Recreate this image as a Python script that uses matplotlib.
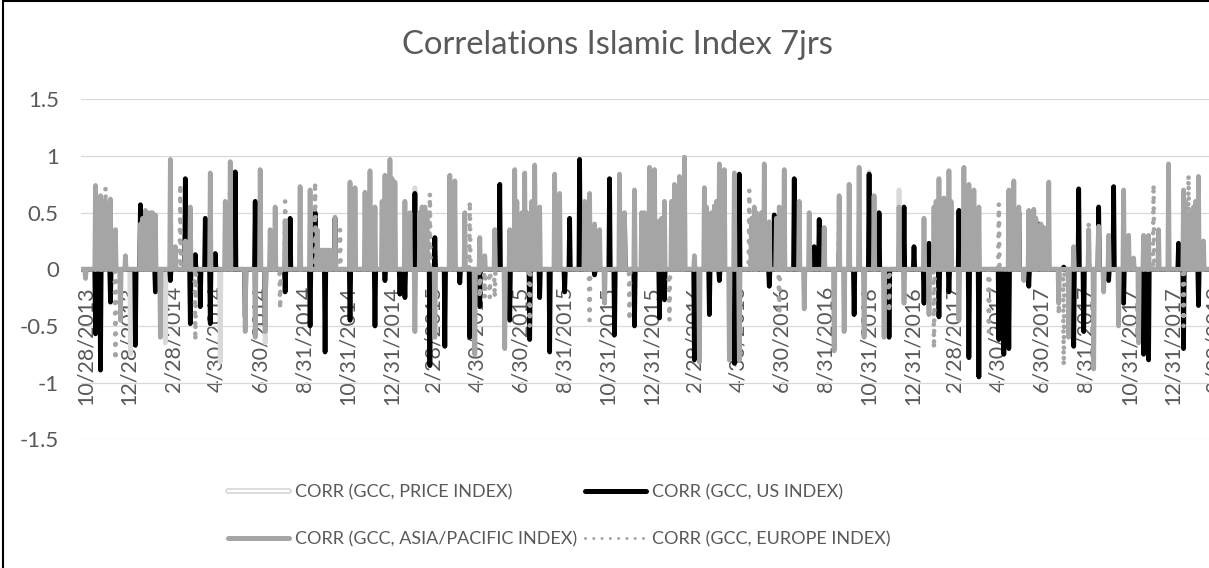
import matplotlib
matplotlib.use("Agg")
import matplotlib.pyplot as plt
from matplotlib.lines import Line2D
from matplotlib.legend_handler import HandlerTuple
from matplotlib.patches import Rectangle
import pandas as pd

# ---------------- data ----------------
TITLE = "Correlations Islamic Index 7jrs"
START = "2013-10-21"          # first week of the series
N_WEEKS = 227
SERIES_NAMES = ["CORR (GCC, PRICE INDEX)", "CORR (GCC, US INDEX)",
                "CORR (GCC, ASIA/PACIFIC INDEX)", "CORR (GCC, EUROPE INDEX)"]

# week index (x.5 = mid-week) -> correlation value (all other days are 0)
price_vals = {1: -0.08, 10: -0.75, 17: -0.65, 28: -0.82, 37: -0.65, 55: 0.6, 67: 0.72,
              91: 0.9, 121: 0.95, 158: 0.86, 164: 0.7}
us_vals = {3: -0.57, 4: -0.89, 6: -0.29, 11: -0.67, 12: 0.57, 15: -0.2, 18: -0.1, 21: 0.8,
           22: -0.48, 23: 0.13, 24: -0.33, 25: 0.45, 26: -0.48, 27: 0.14, 31: 0.86, 33: -0.42,
           35: 0.6, 37: -0.5, 41: -0.2, 42: 0.45, 46: -0.5, 47: 0.5, 49: -0.73, 51: 0.45,
           54: -0.45, 59: -0.5, 61: -0.1, 64: -0.22, 65: -0.25, 67: 0.67, 70: -0.85, 71: 0.28,
           73: -0.68, 76: -0.12, 78: -0.6, 80: -0.33, 84: 0.75, 86: -0.45, 90: -0.62, 92: -0.25,
           94: -0.73, 97: -0.2, 98: 0.45, 100: 0.97, 103: -0.05, 106: 0.8, 107: -0.58, 109: 0.46,
           111: -0.5, 116: -0.43, 117: -0.27, 123: -0.8, 126: -0.4, 127: 0.5, 128: -0.1,
           131: -0.83, 132: 0.84, 136: 0.3, 138: -0.15, 139: 0.48, 143: 0.8, 147: 0.2, 148: 0.44,
           152: 0.15, 155: -0.4, 158: 0.84, 160: 0.5, 162: -0.6, 165: 0.55, 167: 0.2, 169: -0.3,
           170: 0.23, 172: -0.42, 174: -0.2, 176: 0.52, 178: -0.78, 180: -0.95, 184: -0.62,
           185: -0.75, 186: -0.7, 188: 0.5, 190: -0.15, 192: 0.4, 197: 0.02, 199: -0.68,
           200: 0.71, 201: -0.55, 204: 0.55, 206: -0.1, 207: 0.73, 209: -0.3, 213: -0.75,
           214: -0.8, 220: 0.23, 221: -0.7, 224: -0.32}
asia_vals = {1: -0.08, 3: 0.74, 4: 0.65, 5: 0.6, 6: 0.62, 7: 0.35, 8: -0.45, 9: 0.12, 12: 0.4,
             12.5: 0.45, 13: 0.52, 13.5: 0.5, 14: 0.5, 14.5: 0.5, 15: 0.48, 16: -0.6, 18: 0.97,
             19: 0.2, 21: 0.25, 22: 0.55, 26: 0.85, 29: 0.6, 30: 0.95, 33: -0.55, 35: -0.6,
             36: 0.88, 37: -0.55, 38: 0.35, 39: 0.55, 41: 0.43, 44: 0.73, 46: 0.7, 47.5: 0.35,
             48: 0.17, 48.5: 0.17, 49: 0.17, 49.5: 0.17, 50: 0.17, 51: 0.46,
             54: 0.77, 55: 0.72, 57: 0.68, 58: 0.87, 59: 0.55, 60.5: 0.6, 61: 0.83, 61.5: 0.75,
             62: 0.97, 62.5: 0.8, 63: 0.77, 65: 0.6, 66: 0.5, 67: -0.55, 68: 0.5, 68.5: 0.55,
             69: 0.55, 69.5: 0.5, 71: -0.6, 74: 0.83, 75: 0.78, 77: 0.5, 79: -0.75, 80: 0.28,
             81: 0.12, 83: 0.35, 85: -0.7, 86: 0.35, 87: 0.88, 87.5: 0.6, 88.5: 0.5, 89: 0.85,
             89.5: 0.5, 90.5: 0.6, 91: 0.92, 92: 0.55, 95: 0.84, 96: 0.67, 101: 0.6, 102: 0.67,
             103: 0.4, 104: 0.35, 105: -0.3, 108: 0.84, 109: 0.5, 111: 0.7, 112.5: 0.5,
             113: 0.5, 114: 0.9, 115: 0.88, 116: 0.43, 116.5: 0.45, 117: 0.6, 118.5: 0.6,
             119: 0.75, 119.5: 0.6, 120: 0.82, 120.5: 0.5, 121: 0.99, 123: 0.12, 124: -0.82,
             125: 0.72, 125.5: 0.55, 126.5: 0.5, 127: 0.56, 127.5: 0.6, 128: 0.93, 129: 0.88,
             130: -0.8, 131: 0.85, 132: -0.8, 134.5: 0.45, 135: 0.55, 135.5: 0.5, 136.5: 0.5,
             137: 0.93, 138: 0.42, 139.5: 0.45, 140: 0.55, 140.5: 0.5, 141: 0.88, 144: 0.6,
             145: -0.35, 146: 0.5, 149: 0.37, 151: -0.72, 152: 0.65, 153: -0.55, 154: 0.75,
             156: 0.9, 157: -0.6, 159: 0.65, 161: -0.6, 164: 0.55, 165: -0.3, 169: 0.45,
             170: -0.4, 171: 0.55, 171.5: 0.6, 172: 0.8, 172.5: 0.55, 173: 0.63, 174: 0.87,
             174.5: 0.6, 176: -0.45, 177: 0.9, 177.5: 0.55, 178: 0.75, 178.5: 0.6, 179: 0.7,
             180: 0.55, 186: 0.7, 186.5: 0.6, 187: 0.78, 187.5: 0.5, 188: 0.55, 189: -0.1,
             190: 0.52, 190.5: 0.45, 191: 0.53, 191.5: 0.45, 192.5: 0.4, 193: 0.37, 194: 0.77,
             196: -0.3, 198: -0.6, 199: 0.2, 202: 0.35, 203: -0.88, 204: 0.38, 205: -0.2,
             206: 0.3, 208: -0.5, 209: 0.7, 210: 0.3, 211: 0.1, 212: -0.65, 213: 0.3, 214: 0.3,
             216: 0.35, 218: 0.93, 221: 0.7, 221.5: 0.6, 222.5: 0.5, 223: 0.55, 223.5: 0.6,
             224: 0.82, 225: 0.25}
europe_vals = {5: 0.72, 7: -0.8, 20: 0.75, 23: -0.63, 30: 0.93, 40: -0.35, 41: 0.6, 47: 0.77,
               52: 0.35, 58: 0.8, 70: 0.67, 78: 0.6, 80: -0.25, 81: -0.25, 82: -0.25, 83: -0.25,
               90: -0.5, 102: -0.45, 110: -0.45, 118: -0.45, 134: 0.7, 140: -0.4, 152: 0.65,
               162: -0.38, 171: -0.7, 182: -0.55, 184: 0.58, 196: -0.4, 197: -0.85, 202: 0.4,
               215: 0.75, 221: -0.5, 222: 0.83}

TICK_DATES = ["2013-10-28", "2013-12-28", "2014-02-28", "2014-04-30", "2014-06-30",
              "2014-08-31", "2014-10-31", "2014-12-31", "2015-02-28", "2015-04-30",
              "2015-06-30", "2015-08-31", "2015-10-31", "2015-12-31", "2016-02-29",
              "2016-04-30", "2016-06-30", "2016-08-31", "2016-10-31", "2016-12-31",
              "2017-02-28", "2017-04-30", "2017-06-30", "2017-08-31", "2017-10-31",
              "2017-12-31", "2018-02-28"]
Y_TICKS = [-1.5, -1.0, -0.5, 0.0, 0.5, 1.0, 1.5]
Y_LABELS = ["-1.5", "-1", "-0.5", "0", "0.5", "1", "1.5"]

# ---------------- build daily series (0 on days without a value) ----------------
days = pd.date_range(START, periods=N_WEEKS * 7, freq="D")


def daily(d):
    out = []
    for i in range(len(days)):
        w, r = divmod(i, 7)
        if r == 0:
            out.append(d.get(w, 0.0))
        elif r == 3:
            out.append(d.get(w + 0.5, 0.0))
        else:
            out.append(0.0)
    return out


W, H = 1209, 568
fig = plt.figure(figsize=(W / 100, H / 100), dpi=100)
FONT = ["Lato", "DejaVu Sans"]
TXT = "#595959"

left_px, right_px = 81, 1220
top_px, bot_px = 99.3, 439.3
ax = fig.add_axes([left_px / W, 1 - bot_px / H, (right_px - left_px) / W, (bot_px - top_px) / H])
ax.spines["bottom"].set_position(("data", 0))
for s in ["top", "right", "left", "bottom"]:
    ax.spines[s].set_visible(False)

LW = 3.4
kw = dict(solid_joinstyle="round", solid_capstyle="round")
ax.plot(days, daily(price_vals), color="#d9d9d9", lw=LW, zorder=2, **kw)
ax.plot(days, daily(us_vals), color="#000000", lw=LW, zorder=3, **kw)
ax.plot(days, daily(asia_vals), color="#a5a5a5", lw=LW, zorder=4, **kw)
ax.plot(days, daily(europe_vals), color="#a5a5a5", lw=LW, zorder=5,
        linestyle=(0, (0.01, 2.2)), dash_capstyle="round", dash_joinstyle="round")

ref = pd.Timestamp("2013-10-28")
ax.set_xlim(ref - pd.Timedelta(days=(85.5 - left_px) / 0.713),
            ref + pd.Timedelta(days=(right_px - 85.5) / 0.713))
ax.set_ylim(-1.5, 1.5)

ax.set_yticks(Y_TICKS)
ax.set_yticklabels(Y_LABELS, family=FONT, fontsize=16, color=TXT)
ax.grid(axis="y", color="#d9d9d9", lw=0.9, zorder=0)
ax.set_axisbelow(True)

tick_ts = pd.to_datetime(TICK_DATES)
ax.set_xticks(tick_ts)
ax.set_xticklabels([f"{d.month}/{d.day}/{d.year}" for d in tick_ts], rotation=90,
                   family=FONT, fontsize=15.5, color=TXT, va="top", ha="center")
ax.axhline(0, color="#d9d9d9", lw=0.9, zorder=1)
ax.tick_params(axis="x", length=0, pad=12)
ax.tick_params(axis="y", length=0, pad=16)

fig.text(617 / W, 1 - 45 / H, TITLE, ha="center", va="center", family=FONT, fontsize=23.6,
         color=TXT)

h_price = (Line2D([], [], color="#d9d9d9", lw=4.2, solid_capstyle="round"),
           Line2D([], [], color="white", lw=1.6, solid_capstyle="round"))
h_us = Line2D([], [], color="black", lw=3.6, solid_capstyle="round")
h_asia = Line2D([], [], color="#a5a5a5", lw=3.6, solid_capstyle="round")
h_eu = Line2D([], [], color="#a5a5a5", lw=2.2, linestyle=(0, (0.01, 2.7)),
              dash_capstyle="round")
leg = fig.legend([h_price, h_asia, h_us, h_eu],
                 [SERIES_NAMES[0], SERIES_NAMES[2], SERIES_NAMES[1], SERIES_NAMES[3]],
                 ncol=2, loc="upper left", bbox_to_anchor=(228 / W, 1 - 484 / H),
                 frameon=False, prop={"family": FONT, "size": 13},
                 handlelength=3.4, handletextpad=0.3, columnspacing=0.45,
                 labelspacing=1.73, borderpad=0, borderaxespad=0,
                 handler_map={tuple: HandlerTuple(ndivide=1, pad=0)})
for t in leg.get_texts():
    t.set_color(TXT)

fig.add_artist(Rectangle((3 / W, -0.2), 1.5, 1.2 - 1.2 / H, transform=fig.transFigure,
                         fill=False, edgecolor="black", lw=1.5, clip_on=False))

fig.savefig("out.png", dpi=100)
